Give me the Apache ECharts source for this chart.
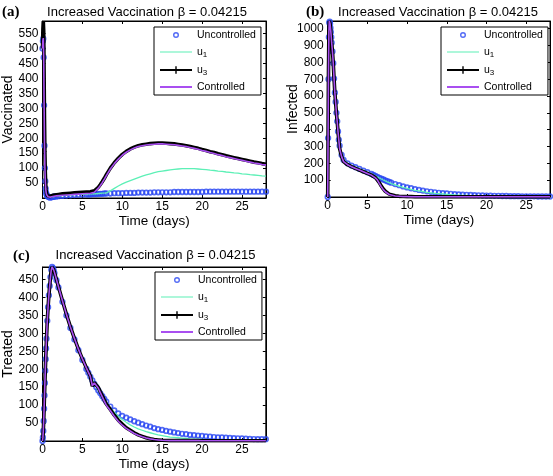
<!DOCTYPE html>
<html><head><meta charset="utf-8">
<script src="https://cdn.jsdelivr.net/npm/echarts@6/dist/echarts.min.js"></script>
<style>html,body{margin:0;padding:0;background:#fff}#c{width:553px;height:476px}</style>
</head><body><div id="c"></div>
<script>
// time (days)
const T = [0,0.05,0.1,0.15,0.2,0.25,0.3,0.35,0.4,0.45,0.5,
  0.6,0.7,0.8,0.9,1,1.1,1.2,1.3,1.4,1.5,
  1.75,2,
  2.5,3,3.5,4,4.5,5,5.5,
  5.75,6,6.25,6.5,6.75,7,7.25,7.5,7.75,8,
  8.5,9,9.5,10,10.5,11,11.5,12,12.5,13,
  13.5,14,14.5,15,15.5,16,16.5,17,17.5,18,
  18.5,19,19.5,20,20.5,21,21.5,22,22.5,23,
  23.5,24,24.5,25,25.5,26,26.5,27,27.5,28];

// (a) Vaccinated
const vacUncontrolled = [500,525,533,470,310,175,100,56,31,18,12,
  7,4,3,2,2,3,3,4,4,5,
  5,6,
  7,8,9,10,11,11,12,
  12,12,13,13,13,14,14,14,15,15,
  15,16,16,16,17,17,17,18,18,18,
  18,19,19,19,19,19,20,20,20,20,
  20,20,20,20,21,21,21,21,21,21,
  21,21,21,21,21,21,21,21,21,21];
const vacU1 = [500,528,535,475,315,180,103,58,32,19,12,
  7,4,3,3,3,3,4,4,5,5,
  6,7,
  8,9,10,11,12,12,13,
  13,14,14,14,15,15,15,16,16,17,
  24,32,40,47,53,58,63,68,73,77,
  81,85,88,90,92,94,96,97,98,98,
  98,98,97,96,95,93,92,90,89,87,
  86,84,83,81,80,78,77,76,74,73];
const vacU3 = [500,565,592,560,420,265,155,88,48,27,16,
  8,5,5,5,6,7,8,8,9,10,
  11,12,
  14,15,16,17,18,19,20,
  21,21,22,24,28,36,45,55,66,78,
  100,118,133,146,156,164,170,175,178,180,
  182,183,184,184,183,182,181,179,177,175,
  172,169,166,162,159,155,152,148,145,141,
  138,135,132,129,126,123,120,118,115,113];
const vacControlled = [500,528,535,475,315,180,103,58,32,19,12,
  7,4,3,3,3,4,4,5,5,6,
  7,8,
  9,10,11,12,13,14,15,
  15,16,17,19,25,33,42,52,63,75,
  97,115,130,143,153,161,167,172,175,177,
  179,180,181,181,180,179,178,176,174,172,
  169,166,163,159,156,152,149,145,142,138,
  135,132,129,126,123,120,117,115,112,110];

// (b) Infected
const infUncontrolled = [0,350,700,950,1035,1042,1030,1005,980,950,917,
  865,795,704,620,565,500,450,390,340,305,
  250,220,
  200,187,177,167,157,147,137,
  131,125,119,114,109,104,99,94,89,85,
  77,70,63,57,52,47,42,38,34,31,
  28,25,23,21,19,17,15,14,13,12,
  11,10,9,8,8,7,7,6,6,5,
  5,5,4,4,4,4,3,3,3,3];
const infU1 = [0,350,700,950,1035,1042,1030,1005,980,950,917,
  865,795,704,620,565,500,450,390,340,305,
  250,220,
  200,187,177,167,157,147,137,
  131,125,119,113,107,101,96,90,85,80,
  72,64,57,51,45,40,36,32,28,25,
  22,20,18,16,14,12,11,10,9,8,
  7,6,6,5,5,4,4,4,3,3,
  3,3,2,2,2,2,2,2,2,2];
const infU3 = [0,380,740,980,1046,1040,1028,1005,980,950,917,
  865,795,704,620,560,497,447,388,338,288,
  240,210,
  192,180,170,160,150,140,130,
  124,116,106,85,65,48,34,24,17,12,
  7,4,3,2,2,1,1,1,1,1,
  1,1,1,1,1,1,1,1,1,1,
  1,1,1,1,1,1,1,1,1,1,
  1,1,1,1,1,1,1,1,1,1];
const infControlled = [0,380,740,980,1046,1040,1028,1005,980,950,917,
  865,795,704,620,560,497,447,388,338,288,
  240,210,
  192,180,170,160,150,140,130,
  123,114,102,81,61,44,31,21,15,10,
  6,4,2,2,1,1,1,1,1,1,
  1,1,1,1,1,1,1,1,1,1,
  1,1,1,1,1,1,1,1,1,1,
  1,1,1,1,1,1,1,1,1,1];

// (c) Treated
const treUncontrolled = [0,10,28,56,90,127,162,196,228,258,285,
  335,373,406,432,457,477,485,482,476,468,
  448,428,
  388,350,315,283,253,226,201,
  190,179,169,159,150,141,133,125,117,110,
  96,85,77,70,65,60,55,51,47,43,
  40,36,33,31,28,26,24,22,20,19,
  17,16,15,14,13,12,11,10,10,9,
  8.5,8,7.5,7,6.5,6,5.5,5,5,5];
const treU1 = [0,10,28,56,90,127,162,196,228,258,285,
  335,373,406,432,457,477,485,482,476,468,
  448,428,
  388,350,315,283,253,226,201,
  190,179,169,159,150,140,131,122,114,106,
  92,80,69,60,52,45,39,34,30,26,
  23,20,17,15,13,11,10,9,8,7,
  6,5.5,5,4.5,4,3.5,3.5,3,3,3,
  2.5,2.5,2,2,2,2,1.5,1.5,1.5,1.5];
const treU3 = [0,10,28,56,90,127,162,196,228,258,285,
  335,373,406,432,457,477,485,483,477,470,
  450,430,
  391,353,318,286,256,229,204,
  193,181,153,163,160,149,137,126,114,103,
  88,72,58,47,37,30,23,17,13,9,
  6,4,3,2,1.5,1,1,1,1,1,
  1,1,1,0.5,0.5,0.5,0.5,0.5,0.5,0.5,
  0.5,0.5,0.5,0.5,0.5,0.5,0.5,0.5,0.5,0.5];
const treControlled = [0,10,28,56,90,127,162,196,228,258,285,
  335,373,406,432,457,477,485,483,477,470,
  450,430,
  391,353,318,286,256,229,204,
  192,180,154,162,158,147,135,123,111,100,
  85,69,55,44,35,28,21,16,12,8.5,
  6,4,3,2,1.5,1,1,1,1,1,
  1,1,1,0.5,0.5,0.5,0.5,0.5,0.5,0.5,
  0.5,0.5,0.5,0.5,0.5,0.5,0.5,0.5,0.5,0.5];

const seriesNames = ['Uncontrolled', 'u1', 'u3', 'Controlled'];
const titleText = 'Increased Vaccination \u03b2 = 0.04215';
const xName = 'Time (days)';

const FONT = '"Liberation Sans", Arial, Helvetica, sans-serif';
const BLUE = '#2846f2', AQUA = '#5cf0b6', PURPLE = '#a94ff0';

const panels = [
  {grid:{left:42, top:21, width:224, height:177}, yMax:592, yInt:50, yName:'Vaccinated',
   data:[vacUncontrolled, vacU1, vacU3, vacControlled], legend:{left:154, top:27},
   title:{x:147, y:12.5}, tag:{text:'(a)', x:2, y:12.5}},
  {grid:{left:327.7, top:21, width:223, height:176}, yMax:1046, yInt:100, yName:'Infected',
   data:[infUncontrolled, infU1, infU3, infControlled], legend:{left:441, top:27},
   title:{x:438, y:12.5}, tag:{text:'(b)', x:306, y:12.5}},
  {grid:{left:42.3, top:267, width:223.5, height:174}, yMax:485, yInt:50, yName:'Treated',
   data:[treUncontrolled, treU1, treU3, treControlled], legend:{left:155, top:272},
   title:{x:155.5, y:255.7}, tag:{text:'(c)', x:13, y:255.7}}
];

const CORNERS = 'M0,0h0.01v0.01h-0.01z M32,12h-0.01v-0.01h0.01z ';
const icons = {
  'Uncontrolled': 'path://' + CORNERS + 'M13,6a3,3 0 1,0 6,0a3,3 0 1,0 -6,0z M14.4,6a1.6,1.6 0 1,1 3.2,0a1.6,1.6 0 1,1 -3.2,0z',
  'u1': 'path://' + CORNERS + 'M0,5.4H32V6.6H0z',
  'u3': 'path://' + CORNERS + 'M0,5.1H32V6.9H0z M15.3,2.3H16.7V9.7H15.3z',
  'Controlled': 'path://' + CORNERS + 'M0,5.1H32V6.9H0z'
};
const iconColors = {'Uncontrolled': BLUE, 'u1': AQUA, 'u3': '#000', 'Controlled': PURPLE};

const grids = [], xAxes = [], yAxes = [], series = [], legends = [], graphics = [];
const axisLineStyle = {lineStyle:{color:'#000', width:1}};

panels.forEach((p, i) => {
  grids.push(Object.assign({show:true, borderColor:'#000', borderWidth:1, backgroundColor:'#fff'}, p.grid));
  const xl = {type:'value', gridIndex:i, min:0, max:28, interval:5,
    axisLine:Object.assign({show:true, onZero:false}, axisLineStyle),
    axisTick:{show:true, inside:true, length:3, lineStyle:{color:'#000'}},
    splitLine:{show:false}};
  xAxes.push(Object.assign({}, xl, {position:'bottom',
    name:xName, nameLocation:'middle', nameGap:16.5, nameMoveOverlap:false,
    nameTextStyle:{fontSize:13.5, color:'#000', fontFamily:FONT},
    axisLabel:{show:true, margin:3, fontSize:12, color:'#000', fontFamily:FONT,
      formatter: v => (v % 5 === 0 ? String(v) : '')}}));
  xAxes.push(Object.assign({}, xl, {position:'top', axisLabel:{show:false}}));
  const yl = {type:'value', gridIndex:i, min:0, max:p.yMax, interval:p.yInt,
    axisLine:Object.assign({show:true, onZero:false}, axisLineStyle),
    axisTick:{show:true, inside:true, length:3, lineStyle:{color:'#000'}},
    splitLine:{show:false}};
  yAxes.push(Object.assign({}, yl, {position:'left',
    name:p.yName, nameLocation:'middle', nameGap:27.5, nameMoveOverlap:false,
    nameTextStyle:{fontSize:14, color:'#000', fontFamily:FONT},
    axisLabel:{show:true, margin:4, fontSize:12, color:'#000', fontFamily:FONT,
      formatter: v => (v === 0 || v % p.yInt !== 0 ? '' : String(v))}}));
  yAxes.push(Object.assign({}, yl, {position:'right', axisLabel:{show:false}}));

  const pts = arr => T.map((t, k) => [t, arr[k]]);
  const xi = 2 * i, yi = 2 * i;
  series.push({type:'scatter', name:seriesNames[0], xAxisIndex:xi, yAxisIndex:yi,
    data:pts(p.data[0]), symbol:'circle', symbolSize:4.6,
    itemStyle:{color:'rgba(0,0,0,0)', borderColor:BLUE, borderWidth:1.7}, z:2});
  series.push({type:'line', name:seriesNames[1], xAxisIndex:xi, yAxisIndex:yi,
    data:pts(p.data[1]), showSymbol:false, symbol:'none',
    lineStyle:{color:AQUA, width:1.3}, itemStyle:{color:AQUA}, z:3});
  series.push({type:'line', name:seriesNames[2], xAxisIndex:xi, yAxisIndex:yi,
    data:pts(p.data[2]), showSymbol:false, symbol:'none',
    lineStyle:{color:'#000', width:3.6}, itemStyle:{color:'#000'}, z:4});
  series.push({type:'line', name:seriesNames[3], xAxisIndex:xi, yAxisIndex:yi,
    data:pts(p.data[3]), showSymbol:false, symbol:'none',
    lineStyle:{color:PURPLE, width:1.6}, itemStyle:{color:PURPLE}, z:5});

  legends.push({orient:'vertical', left:p.legend.left, top:p.legend.top,
    padding:[2,5,2,6], itemWidth:32, itemHeight:12, itemGap:4,
    borderColor:'#000', borderWidth:1, backgroundColor:'#fff',
    selectedMode:false,
    itemStyle:{borderWidth:0},
    data: seriesNames.map(n => ({name:n, icon:icons[n],
      itemStyle:{color:iconColors[n], borderWidth:0, borderColor:'rgba(0,0,0,0)'}})),
    formatter: n => (n === 'u1' ? '{m|u}{s|1}' : n === 'u3' ? '{m|u}{s|3}' : '{m|' + n + '}'),
    textStyle:{fontSize:10.5, color:'#000', fontFamily:FONT,
      rich:{m:{fontSize:10.5, fontFamily:FONT, color:'#000', lineHeight:12},
            s:{fontSize:8, fontFamily:FONT, color:'#000', lineHeight:12, padding:[6,0,0,0]}}}});

  graphics.push({type:'text', x:p.title.x, y:p.title.y, silent:true,
    style:{text:titleText, align:'center', verticalAlign:'middle',
      fontSize:13, fontFamily:FONT, fill:'#000'}});
  graphics.push({type:'text', x:p.tag.x, y:p.tag.y, silent:true,
    style:{text:p.tag.text, align:'left', verticalAlign:'middle',
      fontSize:15, fontWeight:'bold', fontFamily:'"Liberation Serif", "Times New Roman", serif', fill:'#000'}});
});

const chart = echarts.init(document.getElementById('c'), null, {renderer:'canvas'});
chart.setOption({
  animation:false,
  backgroundColor:'#fff',
  grid:grids, xAxis:xAxes, yAxis:yAxes, series:series, legend:legends, graphic:graphics
});
</script>
</body></html>
